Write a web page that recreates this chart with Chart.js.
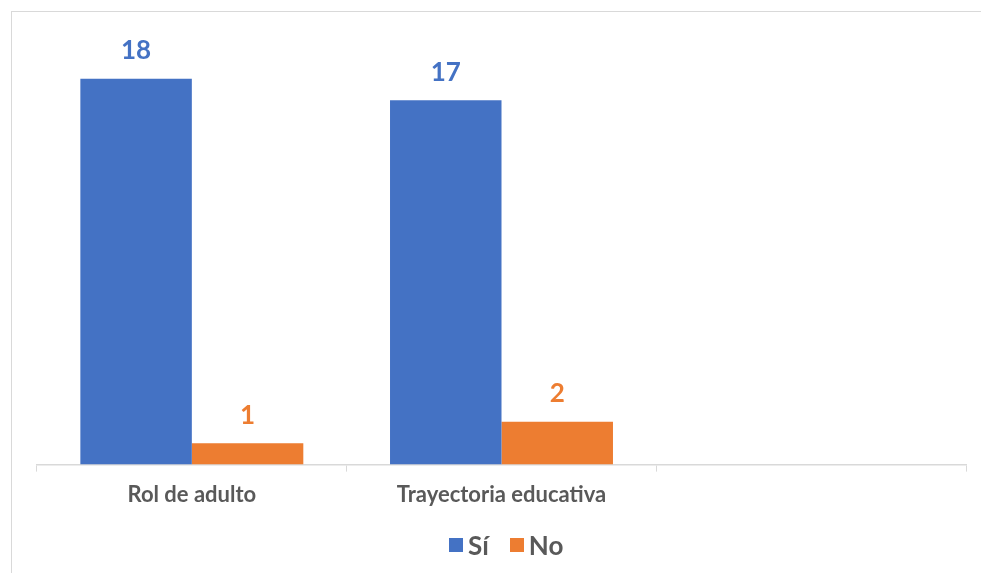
<!DOCTYPE html>
<html>
<head>
<meta charset="utf-8">
<script src="https://cdn.jsdelivr.net/npm/chart.js@4"></script>
<style>
  html, body { margin: 0; padding: 0; background: #fff; }
  #wrap { position: relative; width: 981px; height: 573px; overflow: hidden; }
  #frame { position: absolute; left: 11px; top: 11px; width: 990px; height: 600px; border: 1px solid #d9d9d9; box-sizing: border-box; }
  #Chart { position: absolute; left: 0; top: 0; }
  #legend { position: absolute; left: 449px; top: 529px; display: flex; align-items: center;
            font-family: Lato, "Open Sans", sans-serif; font-weight: bold; font-size: 26px; color: #595959; }
  #legend .item { display: flex; align-items: center; margin-right: 21px; }
  #legend .box { width: 14px; height: 14px; margin-right: 5px; }
</style>
</head>
<body>
<div id="wrap">
  <div id="frame"></div>
  <canvas id="Chart" width="981" height="573"></canvas>
  <div id="legend"></div>
</div>
<script>
// * Categories and series
const labels = ['Rol de adulto', 'Trayectoria educativa', '']
const siValues = [18, 17, null]
const noValues = [1, 2, null]

const blue = '#4472C4'
const orange = '#ED7D31'
const fontFamily = 'Lato, "Open Sans", sans-serif'

// * Value labels above each bar
const valueLabels = {
    id: 'valueLabels',
    afterDatasetsDraw(chart) {
        const ctx = chart.ctx
        ctx.save()
        ctx.font = 'bold 26px ' + fontFamily
        ctx.textAlign = 'center'
        ctx.textBaseline = 'bottom'
        chart.data.datasets.forEach((ds, i) => {
            const meta = chart.getDatasetMeta(i)
            meta.data.forEach((bar, j) => {
                const v = ds.data[j]
                if (v === null || v === undefined) return
                ctx.fillStyle = ds.backgroundColor
                ctx.fillText(v, bar.x, bar.y - 15)
            })
        })
        ctx.restore()
    }
}

const data = {
    labels: labels,
    datasets: [{
        label: 'Sí',
        data: siValues,
        backgroundColor: blue,
    }, {
        label: 'No',
        data: noValues,
        backgroundColor: orange,
    }],
};

const config = {
    type: 'bar',
    data,
    options: {
        responsive: false,
        animation: false,
        categoryPercentage: 0.72,
        barPercentage: 1.0,
        layout: {
            padding: { left: 37, right: 15, top: 36, bottom: 55 }
        },
        scales: {
            x: {
                grid: {
                    display: true,
                    drawOnChartArea: false,
                    offset: true,
                    tickLength: 7,
                    color: '#d9d9d9',
                },
                border: { color: '#d9d9d9', width: 1.5 },
                ticks: {
                    color: '#595959',
                    padding: 10,
                    font: { family: fontFamily, size: 22, weight: 'bold' }
                }
            },
            y: {
                display: false,
                min: 0,
                max: 20,
            }
        },
        plugins: {
            legend: { display: false },
            tooltip: { enabled: false }
        }
    },
    plugins: [valueLabels]
}

const barChart = new Chart(
    document.getElementById('Chart'),
    config
);

// * Legend built from the datasets
const legendEl = document.getElementById('legend')
data.datasets.forEach(ds => {
    const item = document.createElement('div')
    item.className = 'item'
    const box = document.createElement('span')
    box.className = 'box'
    box.style.background = ds.backgroundColor
    const text = document.createElement('span')
    text.textContent = ds.label
    item.appendChild(box)
    item.appendChild(text)
    legendEl.appendChild(item)
})
</script>
</body>
</html>
